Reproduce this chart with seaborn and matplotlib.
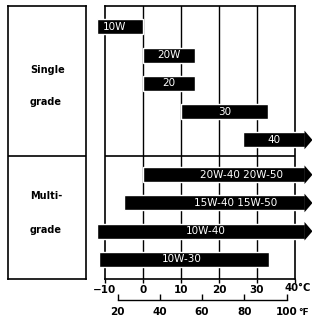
import numpy as np
import matplotlib
matplotlib.use("Agg")
import matplotlib.pyplot as plt
import seaborn as sns

# Motor oil viscosity grades vs. ambient temperature range (deg C)
# None in t_high means the range is open ended (drawn with an arrow)
single_grades = ["10W", "20W", "20", "30", "40"]
single_low = [-12, 0, 0, 10, 26.3]
single_high = [0, 13.7, 13.7, 33, None]

multi_grades = ["20W-40 20W-50", "15W-40 15W-50", "10W-40", "10W-30"]
multi_low = [0, -5, -12, -11.6]
multi_high = [None, None, None, 33.2]

c_ticks = [-10, 0, 10, 20, 30, 40]
c_labels = ["\u221210", "0", "10", "20", "30", ""]
f_ticks = [20, 40, 60, 80, 100]
f_labels = ["20", "40", "60", "80", "100"]

sns.set_theme(style="white")
plt.rcParams["font.family"] = ["DejaVu Sans"]
plt.rcParams["text.color"] = "black"
plt.rcParams["xtick.color"] = "black"
plt.rcParams["xtick.labelcolor"] = "black"

W, H = 312, 322
fig = plt.figure(figsize=(W / 100, H / 100), dpi=100)
fig.patch.set_facecolor("white")

# layout (rows) -- single rows 0..4, multi rows shifted a bit down
gap = 0.23
divider = 4.57
ylim = (8.92, -0.74)
bar_h = 0.53
open_end = 42.6   # where the arrow head starts
tip = 44.6

ax = fig.add_axes([105 / W, 43 / H, 190 / W, 273 / H])
ax.set_xlim(-10, 40)
ax.set_ylim(*ylim)
for s in ax.spines.values():
    s.set_color("black")
    s.set_linewidth(1.2)

for t in c_ticks[1:-1]:
    ax.axvline(t, color="black", lw=1.0, zorder=1)
ax.axhline(divider, color="black", lw=1.2, zorder=1)

grades = single_grades + multi_grades
lows = single_low + multi_low
highs = single_high + multi_high
rows = list(range(len(single_grades))) + [i + len(single_grades) + gap for i in range(len(multi_grades))]
# label offsets (deg C) from the bar body centre
label_shift = [-1.5, 0, 0, 0, 0, 4.5, 5.5, 1.3, -0.5]

for g, lo, hi, y, sh in zip(grades, lows, highs, rows, label_shift):
    end = open_end if hi is None else hi
    ax.barh(y, end - lo, left=lo, height=bar_h, color="black",
            clip_on=False, zorder=3)
    if hi is None:
        ax.fill([open_end - 0.1, tip, open_end - 0.1],
                [y - bar_h * 0.62, y, y + bar_h * 0.62],
                color="black", clip_on=False, zorder=3, lw=0)
    ax.text((lo + end) / 2 + sh, y, g, color="white", fontsize=7.5,
            ha="center", va="center", zorder=4)

ax.set_yticks([])
ax.set_xticks(c_ticks)
ax.set_xticklabels(c_labels, fontweight="bold")
ax.tick_params(axis="x", bottom=True, direction="out", length=3, width=1,
               pad=1, labelsize=7.5, color="black")
# last celsius label carries the unit, kept inside the canvas
ax.text(44.1, -0.0147, "40\u00b0C", transform=ax.get_xaxis_transform(),
        fontsize=7.2, fontweight="bold", ha="right", va="top")


def c2f(c):
    return np.asarray(c) * 9 / 5 + 32


def f2c(f):
    return (np.asarray(f) - 32) * 5 / 9


sec = ax.secondary_xaxis(-21 / 273, functions=(c2f, f2c))
sec.set_xticks(f_ticks)
sec.set_xticklabels(f_labels, fontweight="bold")
sec.tick_params(axis="x", direction="in", length=4, width=1, pad=5,
                labelsize=7.5, color="black")
sec.spines["bottom"].set_bounds(20, 100)
sec.spines["bottom"].set_linewidth(1)
sec.spines["bottom"].set_color("black")
ax.text(40.8, -0.121, "\u00b0F", transform=ax.get_xaxis_transform(),
        fontsize=6.5, fontweight="bold", ha="left", va="center")

# left label box
lax = fig.add_axes([8 / W, 43 / H, 78 / W, 273 / H])
lax.set_xlim(0, 1)
lax.set_ylim(*ylim)
lax.set_xticks([])
lax.set_yticks([])
for s in lax.spines.values():
    s.set_color("black")
    s.set_linewidth(1.2)
lax.axhline(divider, color="black", lw=1.2)
lax.text(0.28, 1.52, "Single", fontsize=7, fontweight="bold", va="center")
lax.text(0.28, 2.65, "grade", fontsize=7, fontweight="bold", va="center")
lax.text(0.28, 6.0, "Multi-", fontsize=7, fontweight="bold", va="center")
lax.text(0.28, 7.19, "grade", fontsize=7, fontweight="bold", va="center")

fig.savefig("out.png", dpi=100, facecolor="white")
